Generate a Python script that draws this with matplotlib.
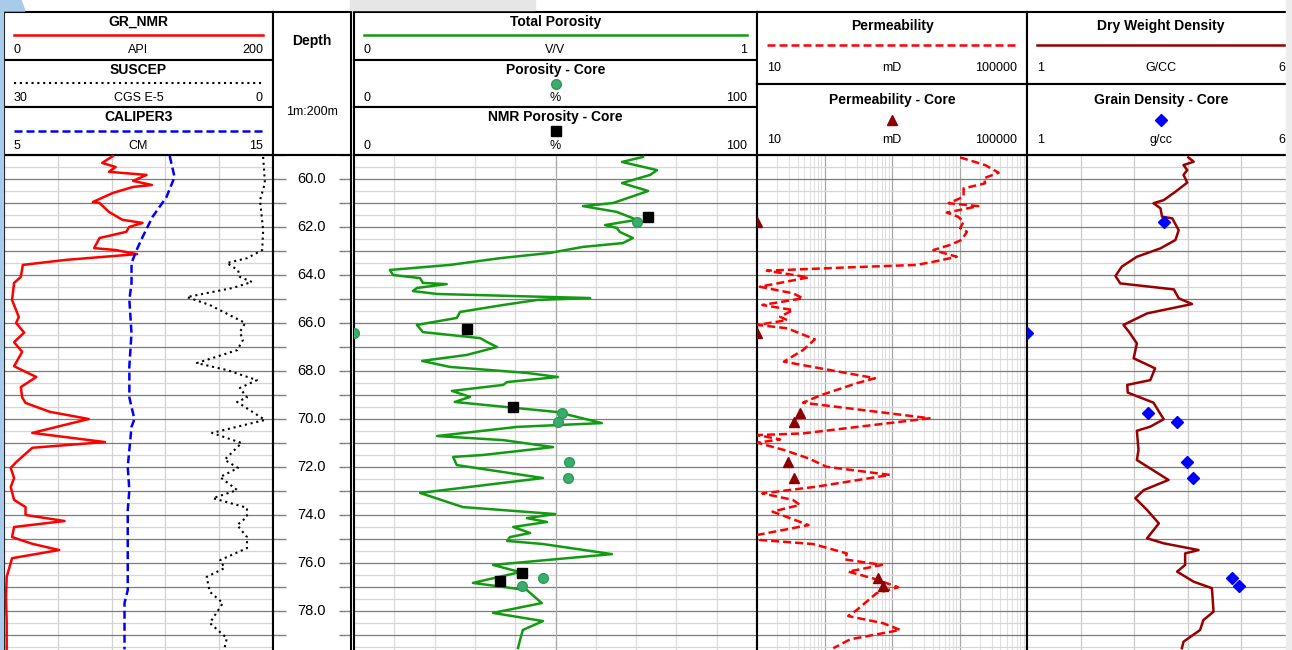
import numpy as np
import matplotlib.pyplot as plt
from matplotlib.patches import Rectangle, Polygon
from matplotlib.ticker import MultipleLocator, LogLocator, NullFormatter

plt.rcParams['font.family'] = ['Liberation Sans', 'DejaVu Sans']

# ---- log curves, depth in m ----
gr_depth = [59.04, 59.33, 59.5, 59.7, 59.83, 60.08, 60.25, 60.33, 60.58, 60.96, 61.0, 61.37,
            61.7, 61.83, 62.0, 62.2, 62.46, 62.67, 62.88, 62.96, 63.13, 63.37, 63.58, 64.08,
            64.33, 65.04, 65.75, 66.0, 66.4, 66.8, 67.2, 67.8, 68.25, 68.67, 69.1, 69.33,
            69.7, 70.0, 70.58, 70.96, 71.2, 71.8, 72.04, 72.46, 72.83, 73.37, 73.67, 74.0,
            74.25, 74.5, 74.92, 75.2, 75.46, 75.8, 76.58, 77.4, 78.5, 79.6]
gr_api = [81, 73, 83, 78, 106, 96, 110, 96, 81, 66, 71, 78,
          88, 103, 93, 91, 71, 69, 67, 83, 99, 46, 14, 12.5,
          7.5, 6, 11, 9, 15, 7.5, 13.5, 7.5, 24, 12.5, 13.5, 16,
          34, 63, 21, 75, 21, 9, 5, 7.5, 5, 7.5, 16, 16,
          45, 7.5, 6, 21, 41, 6, 2, 1.5, 2, 2]

sus_depth = [59.08, 60.17, 60.88, 62.13, 62.96, 63.3, 63.5, 63.8, 64.08, 64.29, 64.54, 64.92,
             65.25, 66.0, 66.38, 66.71, 67.13, 67.67, 67.96, 68.38, 68.71, 69.1, 69.29, 70.04,
             70.58, 71.0, 71.7, 72.04, 72.42, 72.96, 73.3, 73.7, 74.08, 74.42, 74.92, 75.38,
             75.88, 76.21, 76.58, 77.2, 77.67, 78.5, 79.13, 79.54]
sus_cgs = [1.1, 0.9, 1.45, 1.1, 1.2, 2.9, 5.15, 3.9, 3.7, 2.35, 4.5, 9.6,
           7.05, 3.1, 3.7, 3.35, 4.0, 8.5, 5.15, 1.8, 3.7, 2.9, 4.0, 0.9,
           6.8, 3.5, 5.4, 3.9, 5.9, 4.0, 6.7, 2.9, 2.9, 4.0, 2.9, 2.9,
           5.9, 5.4, 7.4, 7.05, 5.6, 7.05, 5.15, 5.4]

cal_depth = [59.04, 59.92, 60.75, 61.58, 62.42, 62.96, 63.5, 64.33, 65.04, 66.42, 67.8,
             69.1, 69.5, 70.0, 70.33, 72.0, 72.96, 73.8, 75.04, 77.13, 77.67, 79.6]
cal_cm = [11.16, 11.34, 11.04, 10.52, 10.15, 9.93, 9.74, 9.74, 9.66, 9.74, 9.66,
          9.66, 9.74, 9.85, 9.74, 9.6, 9.66, 9.6, 9.6, 9.6, 9.48, 9.48]

phit_depth = [59.08, 59.29, 59.63, 59.83, 60.17, 60.5, 61.0, 61.13, 61.37, 61.7, 61.92, 62.04,
              62.21, 62.46, 62.67, 62.83, 63.08, 63.3, 63.58, 63.79, 64.0, 64.13, 64.33, 64.38,
              64.54, 64.67, 64.79, 64.88, 64.96, 65.04, 65.25, 65.54, 65.79, 66.08, 66.38, 66.63,
              66.79, 67.0, 67.33, 67.58, 67.83, 68.08, 68.25, 68.46, 68.58, 68.83, 69.08, 69.29,
              69.71, 70.17, 70.33, 70.71, 70.88, 71.17, 71.5, 71.58, 71.92, 72.46, 73.08, 73.67,
              73.96, 74.13, 74.29, 74.5, 74.75, 74.92, 75.08, 75.21, 75.63, 76.08, 76.38, 76.83,
              77.13, 77.67, 78.08, 78.42, 78.79, 79.21, 79.54]
phit = [0.717, 0.665, 0.752, 0.735, 0.665, 0.73, 0.643, 0.568, 0.652, 0.702, 0.623, 0.652,
        0.66, 0.692, 0.667, 0.568, 0.486, 0.362, 0.238, 0.089, 0.097, 0.164, 0.171, 0.23,
        0.156, 0.146, 0.206, 0.404, 0.586, 0.454, 0.37, 0.263, 0.255, 0.156, 0.171, 0.313,
        0.33, 0.355, 0.28, 0.169, 0.238, 0.429, 0.506, 0.38, 0.37, 0.243, 0.288, 0.25,
        0.504, 0.615, 0.404, 0.206, 0.37, 0.494, 0.32, 0.246, 0.255, 0.469, 0.164, 0.27,
        0.499, 0.429, 0.479, 0.395, 0.437, 0.387, 0.38, 0.469, 0.64, 0.345, 0.412, 0.295,
        0.429, 0.466, 0.345, 0.469, 0.419, 0.412, 0.407]

perm_depth = [59.1, 59.42, 59.74, 59.97, 60.18, 60.39, 60.74, 61.01, 61.13, 61.4, 61.57, 61.78,
              62.05, 62.2, 62.54, 62.75, 62.96, 63.24, 63.45, 63.58, 63.68, 63.82, 64.1, 64.49,
              64.76, 64.97, 65.25, 65.46, 65.74, 65.88, 66.08, 66.22, 66.68, 67.13, 67.61, 67.96,
              68.3, 68.51, 69.0, 69.32, 69.97, 70.6, 70.67, 70.85, 70.99, 71.29, 71.64, 71.99,
              72.33, 72.82, 73.1, 73.37, 73.58, 73.86, 74.42, 74.83, 75.04, 75.21, 75.6, 75.85,
              76.08, 76.36, 76.64, 77.01, 77.26, 77.96, 78.21, 78.51, 78.79, 79.18, 79.55]
perm_md = [10200, 24000, 38000, 22900, 24000, 11500, 11500, 6900, 19000, 6500, 9500, 11500,
           10200, 12900, 10700, 7200, 4100, 9100, 4100, 2300, 240, 14, 58, 11,
           34, 48, 12, 34, 22, 28, 10.2, 28, 72, 48, 25, 120,
           560, 300, 90, 48, 3600, 48, 10.2, 22, 10.2, 25, 58, 107,
           930, 76, 12, 34, 43, 17, 58, 10.2, 11, 68, 214, 200,
           710, 224, 525, 1230, 590, 300, 224, 740, 1320, 240, 135]

dens_depth = [59.1, 59.28, 59.42, 59.63, 59.83, 60.15, 60.53, 60.88, 61.01, 61.22, 61.57, 61.64,
              62.13, 62.54, 62.89, 63.24, 63.65, 64.04, 64.35, 64.6, 64.97, 65.21, 65.6, 66.08,
              66.36, 66.85, 67.47, 67.89, 68.38, 68.58, 68.9, 69.32, 70.01, 70.32, 70.49, 71.29,
              71.71, 72.54, 72.96, 73.3, 73.79, 74.35, 74.97, 75.18, 75.46, 75.6, 76.08, 76.36,
              76.78, 77.05, 78.03, 78.38, 78.79, 79.28, 79.55]
dens_gcc = [4.01, 4.11, 3.92, 3.99, 3.92, 3.99, 3.77, 3.55, 3.36, 3.49, 3.52, 3.71,
            3.83, 3.77, 3.49, 3.05, 2.77, 2.65, 2.74, 3.74, 3.83, 4.08, 3.24, 2.8,
            2.9, 3.05, 2.99, 3.39, 3.3, 2.87, 2.88, 3.36, 3.55, 3.3, 3.05, 3.08,
            3.05, 3.64, 3.18, 3.02, 3.24, 3.46, 3.24, 3.55, 4.2, 3.95, 3.95, 3.8,
            4.11, 4.45, 4.48, 4.29, 4.23, 3.92, 3.89]

# ---- core samples ----
core_depth = [61.78, 66.43, 69.74, 70.14, 71.8, 72.47, 76.64, 76.97]
core_phi = [70.3, 0.0, 51.5, 50.5, 53.4, 53.0, 46.8, 41.8]
core_perm = [10, 10, 43, 35, 29, 35, 617, 741]
core_grain = [3.55, 1.0, 3.26, 3.8, 3.99, 4.1, 4.82, 4.95]

nmr_depth = [61.57, 66.25, 69.51, 76.4, 76.74]
nmr_phi = [73.0, 28.0, 39.5, 41.6, 36.2]

depth_top, depth_bot = 59.0, 79.625

W, H = 1292, 650
LOG_TOP, LOG_BOT = 155, 650

fig = plt.figure(figsize=(W / 100, H / 100), dpi=100)

# screen edge bits around the print area
fig.patches.append(Rectangle((0, 0), 3 / W, 1, transform=fig.transFigure, color='#a9cbea', zorder=0))
fig.patches.append(Polygon([(0, 1), (21 / W, 1), (25 / W, 1 - 11 / H), (0, 1 - 11 / H)],
                           closed=True, transform=fig.transFigure, color='#a9cbea', zorder=0))
fig.patches.append(Rectangle((350 / W, 1 - 10 / H), 185 / W, 10 / H, transform=fig.transFigure,
                             color='#e6e6e6', zorder=0))
fig.patches.append(Rectangle((1286 / W, 0), 6 / W, 1, transform=fig.transFigure,
                             color='#ededed', zorder=0))


def frame(x0, y0, x1, y1, lw=1.5):
    ax = fig.add_axes([x0 / W, 1 - y1 / H, (x1 - x0) / W, (y1 - y0) / H])
    ax.set_xticks([])
    ax.set_yticks([])
    for s in ax.spines.values():
        s.set_linewidth(lw)
        s.set_color('black')
    return ax


def header(x0, y0, x1, y1, title, lo, unit, hi, swatch, ty, sy, ly):
    ax = frame(x0, y0, x1, y1)
    ax.set_xlim(0, 1)
    ax.set_ylim(0, 1)
    pad = 10 / (x1 - x0)
    ax.text(0.5, ty, title, ha='center', va='center', fontsize=10, fontweight='bold')
    if 'marker' in swatch:
        ax.plot([0.5], [sy], linestyle='none', **swatch)
    else:
        ax.plot([pad, 1 - pad], [sy, sy], **swatch)
    ax.text(pad, ly, lo, ha='left', va='center', fontsize=9)
    ax.text(0.5, ly, unit, ha='center', va='center', fontsize=9)
    ax.text(1 - pad, ly, hi, ha='right', va='center', fontsize=9)
    return ax


def track(x0, x1):
    ax = frame(x0, LOG_TOP, x1, LOG_BOT)
    ax.spines['bottom'].set_visible(False)
    ax.set_ylim(depth_bot, depth_top)
    ax.yaxis.set_major_locator(MultipleLocator(1))
    ax.yaxis.set_minor_locator(MultipleLocator(0.5))
    ax.tick_params(axis='both', which='both', left=False, bottom=False,
                   labelleft=False, labelbottom=False)
    ax.grid(axis='y', which='major', color='#7c7c7c', lw=0.9)
    ax.grid(axis='y', which='minor', color='#d6d6d6', lw=0.9)
    return ax


def twin(ax, lo, hi):
    t = ax.twiny()
    t.set_xlim(lo, hi)
    t.set_xticks([])
    for s in t.spines.values():
        s.set_visible(False)
    return t


# column edges in pixels
T1 = (4, 273)
TD = (273, 351)
T3 = (354, 757)
T4 = (757, 1027)
T5 = (1027, 1295)

# ---- headers ----
header(T1[0], 12, T1[1], 60, 'GR_NMR', '0', 'API', '200',
       dict(color='red', lw=1.8), 0.79, 0.52, 0.21)
header(T1[0], 60, T1[1], 107, 'SUSCEP', '30', 'CGS E-5', '0',
       dict(color='black', lw=1.5, linestyle=(0, (1, 1.8))), 0.79, 0.51, 0.19)
header(T1[0], 107, T1[1], 155, 'CALIPER3', '5', 'CM', '15',
       dict(color='blue', lw=1.8, linestyle=(0, (3.2, 1.6))), 0.79, 0.51, 0.19)

hd = frame(TD[0], 12, TD[1], 155)
hd.text(0.5, 0.80, 'Depth', transform=hd.transAxes, ha='center', va='center',
        fontsize=10, fontweight='bold')
hd.text(0.5, 0.30, '1m:200m', transform=hd.transAxes, ha='center', va='center', fontsize=9)

header(T3[0], 12, T3[1], 60, 'Total Porosity', '0', 'V/V', '1',
       dict(color='#139a13', lw=1.8), 0.79, 0.52, 0.21)
header(T3[0], 60, T3[1], 107, 'Porosity - Core', '0', '%', '100',
       dict(marker='o', ms=7, color='#3aad6c', mec='#2f9a5c'), 0.79, 0.49, 0.19)
header(T3[0], 107, T3[1], 155, 'NMR Porosity - Core', '0', '%', '100',
       dict(marker='s', ms=7, color='black'), 0.79, 0.49, 0.19)

header(T4[0], 12, T4[1], 84, 'Permeability', '10', 'mD', '100000',
       dict(color='red', lw=1.8, linestyle=(0, (3.2, 1.6))), 0.80, 0.54, 0.22)
header(T4[0], 84, T4[1], 155, 'Permeability - Core', '10', 'mD', '100000',
       dict(marker='^', ms=7, color='#8b0000'), 0.78, 0.50, 0.21)
header(T5[0], 12, T5[1], 84, 'Dry Weight Density', '1', 'G/CC', '6',
       dict(color='#990000', lw=1.8), 0.80, 0.54, 0.22)
header(T5[0], 84, T5[1], 155, 'Grain Density - Core', '1', 'g/cc', '6',
       dict(marker='D', ms=6, color='blue'), 0.78, 0.50, 0.21)

# ---- track 1: GR / SUSCEP / CALIPER3 ----
ax1 = track(*T1)
ax1.set_xlim(0, 200)
ax1.set_xticks(np.arange(0, 201, 40))
ax1.grid(axis='x', color='#d2d2d2', lw=0.9)
ax1.plot(gr_api, gr_depth, color='red', lw=1.8, zorder=3)
ax_cal = twin(ax1, 5, 15)
ax_cal.plot(cal_cm, cal_depth, color='blue', lw=1.8, linestyle=(0, (3.2, 1.6)))
ax_sus = twin(ax1, 30, 0)
ax_sus.plot(sus_cgs, sus_depth, color='black', lw=1.5, linestyle=(0, (1, 1.8)))

# ---- depth track ----
axd = frame(TD[0], LOG_TOP, TD[1], LOG_BOT)
axd.spines['bottom'].set_visible(False)
axd.set_ylim(depth_bot, depth_top)
axd.yaxis.set_major_locator(MultipleLocator(1))
axd.tick_params(axis='y', direction='in', length=9, width=1.0, color='#808080',
                left=True, right=True, labelleft=False)
for d in np.arange(60, 80, 2):
    axd.text(0.5, d, f'{d:.1f}', transform=axd.get_yaxis_transform(),
             ha='center', va='center', fontsize=10.5)

# ---- track 3: porosity ----
ax3 = track(*T3)
ax3.set_xlim(0, 1)
ax3.set_xticks(np.arange(0, 1.01, 0.1))
ax3.grid(axis='x', color='#dcdcdc', lw=0.9)
ax3.axvline(0.5, color='#ababab', lw=0.9, zorder=1.6)
ax3.plot(phit, phit_depth, color='#139a13', lw=1.8, zorder=3)
ax_core = twin(ax3, 0, 100)
ax_core.plot(core_phi, core_depth, 'o', ms=7, color='#3aad6c', mec='#2f9a5c')
ax_core.plot(nmr_phi, nmr_depth, 's', ms=7, color='black')

# ---- track 4: permeability ----
ax4 = track(*T4)
ax4.set_xscale('log')
ax4.set_xlim(10, 1e5)
ax4.xaxis.set_major_locator(LogLocator(base=10, numticks=10))
ax4.xaxis.set_minor_locator(LogLocator(base=10, subs=np.arange(2, 10), numticks=20))
ax4.xaxis.set_minor_formatter(NullFormatter())
ax4.tick_params(axis='x', which='both', bottom=False, labelbottom=False)
ax4.grid(axis='x', which='major', color='#a8a8a8', lw=0.9)
ax4.grid(axis='x', which='minor', color='#e0e0e0', lw=0.8)
ax4.plot(perm_md, perm_depth, color='red', lw=1.8, linestyle=(0, (3.2, 1.6)), zorder=3)
ax4.plot(core_perm, core_depth, '^', ms=7, color='#8b0000', zorder=4)

# ---- track 5: density ----
ax5 = track(*T5)
ax5.set_xlim(1, 6)
ax5.set_xticks(np.arange(1, 7, 1))
ax5.grid(axis='x', color='#cdcdcd', lw=0.9)
ax5.plot(dens_gcc, dens_depth, color='#990000', lw=1.8, zorder=3)
ax5.plot(core_grain, core_depth, 'D', ms=6, color='blue', zorder=4)

fig.savefig('out.png', dpi=100)
